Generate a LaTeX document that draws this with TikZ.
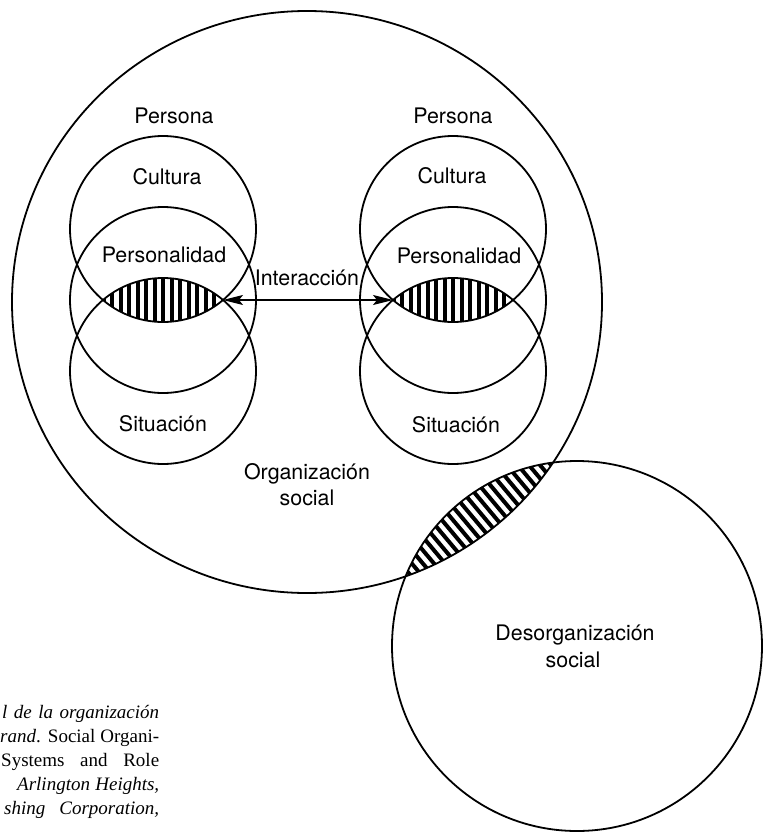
\documentclass[tikz,border=0pt]{standalone}
\usepackage{fontspec}
\setmainfont{TeX Gyre Heros}
\newfontfamily\capfont{Liberation Serif}
\usetikzlibrary{arrows.meta,shapes.geometric}
\begin{document}
\begin{tikzpicture}[x=1pt,y=-1pt,
  ring/.style={draw, circle, line width=1.8pt, inner sep=0pt, minimum size=186pt},
  lbl/.style={anchor=base, inner sep=0pt, font=\fontsize{21.4}{26}\selectfont},
  stripe/.style={line width=4pt},
  capline/.style={anchor=base west, inner sep=0pt, font=\capfont\fontsize{19}{24}\selectfont},
  link/.style={line width=1.1pt, {Stealth[length=20pt,width=10pt,inset=4pt]}-{Stealth[length=20pt,width=10pt,inset=4pt]}}]
\useasboundingbox (0,0) rectangle (765,833);

% hatched overlap of culture and situation, left person
\begin{scope}
  \clip (163,229) circle[radius=93pt];
  \clip (163,371) circle[radius=93pt];
  \foreach \k in {-8,...,8} \draw[stripe] ({163+8.5*\k},250) -- ({163+8.5*\k},350);
\end{scope}
% hatched overlap, right person
\begin{scope}
  \clip (453,229) circle[radius=93pt];
  \clip (453,371) circle[radius=93pt];
  \foreach \k in {-8,...,8} \draw[stripe] ({453+8.5*\k},250) -- ({453+8.5*\k},350);
\end{scope}
% hatched overlap of organization and disorganization
\begin{scope}
  \clip (307,302) ellipse[x radius=295pt, y radius=291pt];
  \clip (577,646) circle[radius=185pt];
  \begin{scope}[shift={(476,521)}, rotate=40]
    \foreach \k in {-14,...,14} \draw[stripe] ({8.5*\k},-80) -- ({8.5*\k},80);
  \end{scope}
\end{scope}

% social organization and disorganization
\node[draw, ellipse, line width=1.8pt, inner sep=0pt, minimum width=590pt, minimum height=582pt] (org) at (307,302) {};
\node[ring, minimum size=370pt] (dis) at (577,646) {};

% the two persons
\node[ring] (lcul) at (163,229) {};
\node[ring] (lper) at (163,300) {};
\node[ring] (lsit) at (163,371) {};
\node[ring] (rcul) at (453,229) {};
\node[ring] (rper) at (453,300) {};
\node[ring] (rsit) at (453,371) {};

% labels
\node[lbl] (persL) at (174,123) {Persona};
\node[lbl] (persR) at (453,123) {Persona};
\node[lbl] (culL) at (167,184) {Cultura};
\node[lbl] (culR) at (452,183) {Cultura};
\node[lbl] (perL) at (164,262) {Personalidad};
\node[lbl] (perR) at (459,263) {Personalidad};
\node[lbl] (sitL) at (163,431) {Situación};
\node[lbl] (sitR) at (456,432) {Situación};
\node[lbl] (inter) at (307,285) {Interacción};
\node[lbl] (orgA) at (307,479) {Organización};
\node[lbl] (orgB) at (307,505) {social};
\node[lbl] (disA) at (575,640) {Desorganización};
\node[lbl] (disB) at (573,667) {social};

% interaction arrow between the two hatched overlaps
\coordinate (ltip) at (223,300);
\coordinate (rtip) at (393,300);
\draw[link] (ltip) -- (rtip);

% caption
\node[capline] (cap1) at (2,718) {\makebox[157pt][s]{\itshape l de la organización}};
\node[capline] (cap2) at (0,742) {\makebox[159pt][s]{\textit{rand}. Social Organi-}};
\node[capline] (cap3) at (1,766) {\makebox[158pt][s]{Systems and Role}};
\node[capline] (cap4) at (17,790) {\makebox[142pt][s]{\itshape Arlington Heights,}};
\node[capline] (cap5) at (4,814) {\makebox[155pt][s]{\itshape shing Corporation,}};
\end{tikzpicture}
\end{document}
